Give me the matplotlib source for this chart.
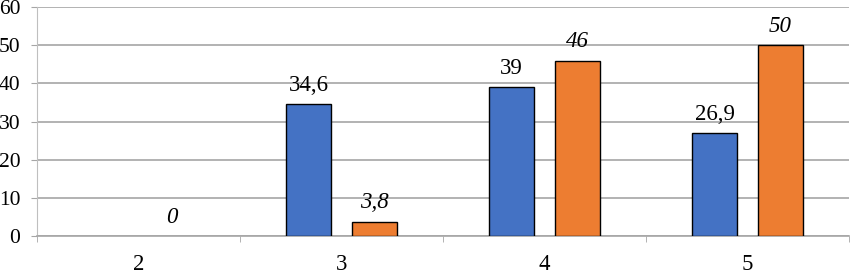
import numpy as np
import matplotlib.pyplot as plt
from matplotlib.ticker import FixedLocator

plt.rcParams['font.family'] = ['Liberation Serif', 'DejaVu Serif']

kategorie = ['2', '3', '4', '5']
seria_1 = [np.nan, 34.6, 39, 26.9]
seria_2 = [0, 3.8, 46, 50]
yticks = [0, 10, 20, 30, 40, 50, 60]

def fmt(v):
    s = ('%.1f' % v).rstrip('0').rstrip('.')
    return s.replace('.', ',')

fig = plt.figure(figsize=(8.5, 2.72), dpi=100)
ax = fig.add_axes([0.0435, 0.132, 0.9555, 0.842])

x = np.arange(len(kategorie))
w = 0.22
off = 0.162
ax.bar(x - off, seria_1, w, color='#4472C4', edgecolor='black', linewidth=1, zorder=3)
# zero-height bar: no outline
ax.bar(x + off, seria_2, w, color='#ED7D31',
       edgecolor=['none' if v == 0 else 'black' for v in seria_2], linewidth=1, zorder=3)

# etykiety danych
for xi, v in zip(x, seria_1):
    if not np.isnan(v):
        ax.annotate(fmt(v), (xi - off, v), xytext=(0, 9.5), textcoords='offset points',
                    ha='center', va='baseline', fontsize=16.5)
for xi, v in zip(x, seria_2):
    ax.annotate(fmt(v), (xi + off, v), xytext=(0, 9.5), textcoords='offset points',
                ha='center', va='baseline', fontsize=16.5, style='italic')

ax.set_xlim(-0.5, len(kategorie) - 0.5)
ax.set_ylim(0, 60)
ax.set_yticks(yticks)
ax.set_yticklabels([str(t) for t in yticks], fontsize=15.5)
ax.yaxis.grid(True, color='#a6a6a6', linewidth=1.2, zorder=0)
ax.tick_params(axis='y', length=4, color='#a6a6a6', pad=8)

ax.set_xticks(x)
ax.set_xticklabels(kategorie, fontsize=16.5)
ax.tick_params(axis='x', which='major', length=0, pad=13)
ax.xaxis.set_minor_locator(FixedLocator(np.arange(-0.5, len(kategorie), 1)))
ax.tick_params(axis='x', which='minor', length=4, color='#a6a6a6')

for s in ['top', 'right']:
    ax.spines[s].set_visible(False)
ax.spines['left'].set_color('#bfbfbf')
ax.spines['bottom'].set_color('#a6a6a6')
ax.spines['bottom'].set_linewidth(1.2)

fig.savefig('out.png', dpi=100)
